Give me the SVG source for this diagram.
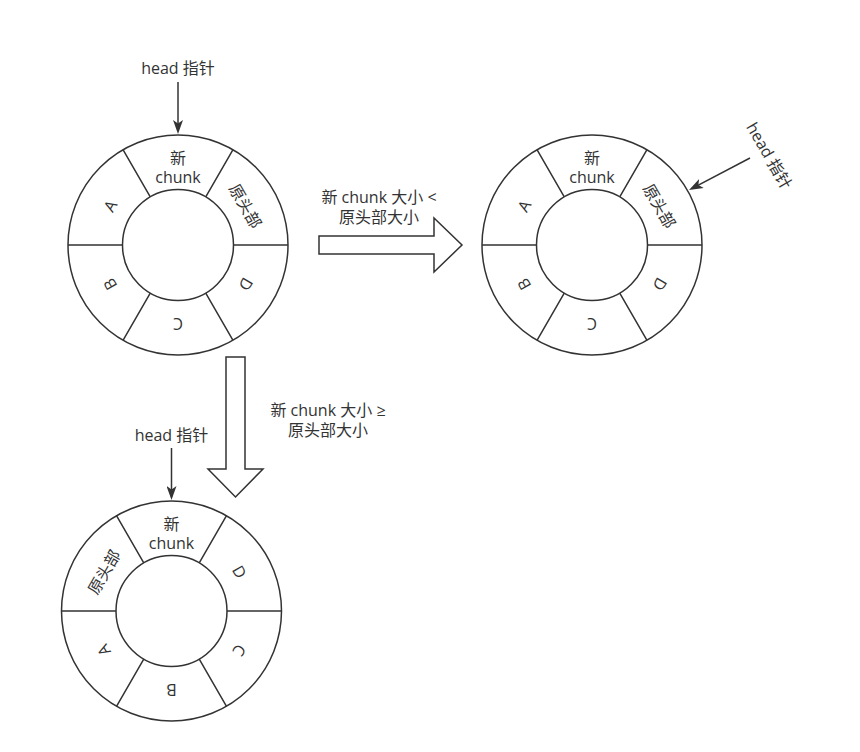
<svg xmlns="http://www.w3.org/2000/svg" width="860" height="752" viewBox="0 0 860 752">
<defs>
<style>
.o{fill:#fff;stroke:#333;stroke-width:1.5}
.d{stroke:#333;stroke-width:1.5;fill:none}
.t{font-family:"Open Sans","Noto Sans CJK SC",sans-serif;font-size:16px;fill:#333;text-anchor:middle}
.ba{fill:#fff;stroke:#333;stroke-width:1.5;stroke-linejoin:miter}
</style>
<marker id="arr" viewBox="0 0 14 10" refX="11" refY="5" markerWidth="14" markerHeight="10" orient="auto" markerUnits="userSpaceOnUse">
<path d="M0,0 L14,5 L0,10 L3.5,5 Z" fill="#333"/>
</marker>
<g id="ringShape">
<circle r="110" class="o"/>
<circle r="55.5" class="o"/>
<path class="d" d="M-110,0 L-55.5,0 M55.5,0 L110,0 M-55,-95.26 L-27.75,-48.06 M55,-95.26 L27.75,-48.06 M-55,95.26 L-27.75,48.06 M55,95.26 L27.75,48.06"/>
</g>
</defs>
<rect width="860" height="752" fill="#fff"/>

<g id="ring1" transform="translate(178,245)">
<use href="#ringShape"/>
<text class="t" y="-81"><tspan x="0">新</tspan><tspan x="0" dy="19">chunk</tspan></text>
<text class="t" transform="rotate(60)" y="-72">原头部</text>
<text class="t" transform="rotate(120)" y="-72.5">D</text>
<text class="t" transform="rotate(180)" y="-72.5">C</text>
<text class="t" transform="rotate(240)" y="-72.5">B</text>
<text class="t" transform="rotate(-60)" y="-72.5">A</text>
</g>

<g id="ring2" transform="translate(592,245)">
<use href="#ringShape"/>
<text class="t" y="-81"><tspan x="0">新</tspan><tspan x="0" dy="19">chunk</tspan></text>
<text class="t" transform="rotate(60)" y="-72">原头部</text>
<text class="t" transform="rotate(120)" y="-72.5">D</text>
<text class="t" transform="rotate(180)" y="-72.5">C</text>
<text class="t" transform="rotate(240)" y="-72.5">B</text>
<text class="t" transform="rotate(-60)" y="-72.5">A</text>
</g>

<g id="ring3" transform="translate(171.5,611)">
<use href="#ringShape"/>
<text class="t" y="-81"><tspan x="0">新</tspan><tspan x="0" dy="19">chunk</tspan></text>
<text class="t" transform="rotate(-60)" y="-72">原头部</text>
<text class="t" transform="rotate(60)" y="-72.5">D</text>
<text class="t" transform="rotate(120)" y="-72.5">C</text>
<text class="t" transform="rotate(180)" y="-72.5">B</text>
<text class="t" transform="rotate(240)" y="-72.5">A</text>
</g>

<g id="head1"><text class="t" x="178" y="74">head 指针</text></g>
<g id="head2"><text class="t" transform="translate(769,156) rotate(60)" y="5.5">head 指针</text></g>
<g id="head3"><text class="t" x="171.5" y="441">head 指针</text></g>

<g id="cond1">
<text class="t" y="203"><tspan x="379">新 chunk 大小 &lt;</tspan><tspan x="379" dy="20">原头部大小</tspan></text>
</g>
<g id="cond2">
<text class="t" y="416"><tspan x="328">新 chunk 大小 ≥</tspan><tspan x="328" dy="20">原头部大小</tspan></text>
</g>

<g id="connectors">
<line class="d" x1="178" y1="82" x2="178" y2="131" marker-end="url(#arr)"/>
<line class="d" x1="750" y1="158" x2="691.7" y2="188.6" marker-end="url(#arr)"/>
<line class="d" x1="171.5" y1="448" x2="171.5" y2="497" marker-end="url(#arr)"/>
<path class="ba" d="M319,236 L434,236 L434,218 L462,245 L434,272 L434,254 L319,254 Z"/>
<path class="ba" d="M226,357 L245,357 L245,469 L263,469 L235.5,497 L208,469 L226,469 Z"/>
</g>
</svg>
